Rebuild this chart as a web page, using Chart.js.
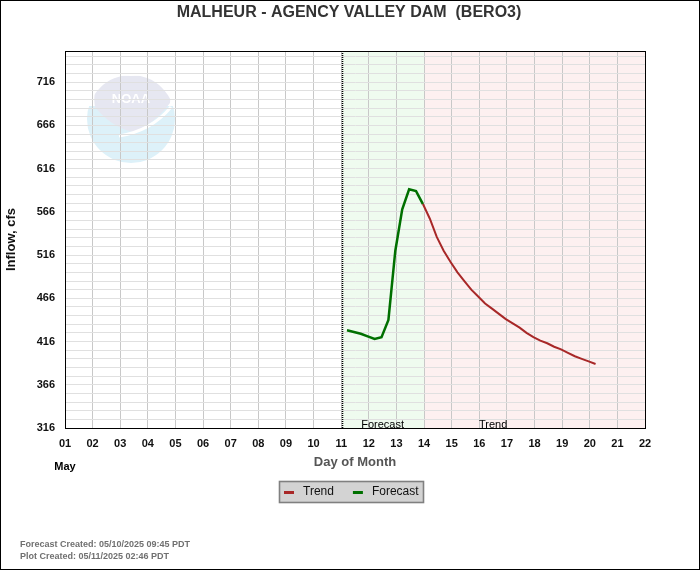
<!DOCTYPE html>
<html>
<head>
<meta charset="utf-8">
<title>MALHEUR - AGENCY VALLEY DAM (BERO3)</title>
<script src="https://cdn.jsdelivr.net/npm/chart.js@4.4.1/dist/chart.umd.min.js"></script>
<style>
    html, body { margin: 0; padding: 0; background: #fff; }
    canvas { display: block; }
</style>
</head>
<body>
<canvas id="inflowChart" width="700" height="570"></canvas>
<script>
const chartTitle = 'MALHEUR - AGENCY VALLEY DAM  (BERO3)';
const yAxisTitle = 'Inflow, cfs';
const xAxisTitle = 'Day of Month';
const monthLabel = 'May';
const footnotes = ['Forecast Created: 05/10/2025 09:45 PDT', 'Plot Created: 05/11/2025 02:46 PDT'];

const dayMin = 1;
const dayMax = 22;
const flowMin = 316;
const flowMax = 752;
const flowLabels = [316, 366, 416, 466, 516, 566, 616, 666, 716];
const flowGridStep = 10;

// shaded periods (day of month)
const forecastStart = 11.04;
const trendStart = 14.01;
const forecastLabelDay = 12.5;
const trendLabelDay = 16.5;

const forecastDays = [11.21, 11.46, 11.71, 11.96, 12.21, 12.46, 12.71, 12.96, 13.21, 13.46, 13.71, 13.96];
const forecastFlow = [429, 427, 425, 422, 419, 421, 441, 521, 569, 592, 590, 575];

const trendDays = [13.96, 14.21, 14.46, 14.71, 14.96, 15.21, 15.46, 15.71, 15.96, 16.21, 16.46, 16.71, 16.96,
    17.21, 17.46, 17.71, 17.96, 18.21, 18.46, 18.71, 18.96, 19.21, 19.46, 19.71, 19.96, 20.21];
const trendFlow = [575, 558, 537, 521, 508, 496, 486, 476, 468, 460, 454, 448, 442,
    437, 432, 426, 421, 417, 414, 410, 407, 403, 399, 396, 393, 390];

const FONT = "'Liberation Sans', Arial, sans-serif";
const TREND_COLOR = '#a82828';
const FORECAST_COLOR = '#007000';

const pairs = (xs, ys) => xs.map((x, i) => ({ x, y: ys[i] }));

function flowGrid() {
    const values = [];
    for (let v = flowMin; v < flowMax; v += flowGridStep) values.push(v);
    return values;
}

// faint agency watermark
function drawLogo(ctx, cx, cy) {
    const r = 44;
    ctx.save();
    ctx.beginPath();
    ctx.arc(cx, cy, r, 0, Math.PI * 2);
    ctx.clip();
    ctx.fillStyle = '#ddf1f9';
    ctx.fillRect(cx - r, cy - 13, r * 2, r + 13);
    ctx.fillStyle = '#e6e7f1';
    ctx.beginPath();
    ctx.moveTo(cx - 36, cy - 12);
    ctx.quadraticCurveTo(cx - 42, cy - 46, cx, cy - 43);
    ctx.quadraticCurveTo(cx + 42, cy - 46, cx + 39, cy - 16);
    ctx.quadraticCurveTo(cx + 22, cy + 6, cx + 2, cy + 13);
    ctx.quadraticCurveTo(cx - 20, cy + 8, cx - 36, cy - 12);
    ctx.fill();
    ctx.strokeStyle = '#ffffff';
    ctx.lineWidth = 3;
    ctx.beginPath();
    ctx.moveTo(cx - 12, cy + 17);
    ctx.quadraticCurveTo(cx + 20, cy + 12, cx + 40, cy - 12);
    ctx.stroke();
    ctx.fillStyle = '#ffffff';
    ctx.font = `bold 13px ${FONT}`;
    ctx.textAlign = 'center';
    ctx.textBaseline = 'middle';
    ctx.fillText('NOAA', cx, cy - 20);
    ctx.restore();
}

const decorPlugin = {
    id: 'decor',
    beforeDraw(chart) {
        const { ctx, chartArea: a, scales: { x } } = chart;
        const xf = x.getPixelForValue(forecastStart);
        const xt = x.getPixelForValue(trendStart);
        ctx.save();
        ctx.fillStyle = '#ffffff';
        ctx.fillRect(0, 0, chart.width, chart.height);
        ctx.fillStyle = '#effbef';
        ctx.fillRect(xf, a.top, xt - xf, a.bottom - a.top);
        ctx.fillStyle = '#fdf0f0';
        ctx.fillRect(xt, a.top, a.right - xt, a.bottom - a.top);
        ctx.restore();
        drawLogo(ctx, a.left + 66, a.top + 68);
    },
    afterDraw(chart) {
        const { ctx, chartArea: a, scales: { x } } = chart;
        ctx.save();
        // plot frame and outer frame
        ctx.strokeStyle = '#000';
        ctx.lineWidth = 1;
        ctx.strokeRect(Math.round(a.left) + 0.5, Math.round(a.top) + 0.5,
            Math.round(a.right - a.left), Math.round(a.bottom - a.top));
        ctx.strokeRect(0.5, 0.5, chart.width - 1, chart.height - 1);

        // forecast start marker
        const xf = Math.round(x.getPixelForValue(forecastStart)) + 0.5;
        ctx.setLineDash([1, 1]);
        ctx.lineWidth = 1.6;
        ctx.beginPath();
        ctx.moveTo(xf, a.top);
        ctx.lineTo(xf, a.bottom);
        ctx.stroke();
        ctx.setLineDash([]);

        // title
        ctx.fillStyle = '#333';
        ctx.font = `bold 16px ${FONT}`;
        ctx.textAlign = 'center';
        ctx.textBaseline = 'middle';
        ctx.fillText(chartTitle, 349, 13);

        // period labels
        ctx.fillStyle = '#000';
        ctx.font = `11px ${FONT}`;
        ctx.textBaseline = 'alphabetic';
        ctx.fillText('Forecast', x.getPixelForValue(forecastLabelDay), a.bottom);
        ctx.fillText('Trend', x.getPixelForValue(trendLabelDay), a.bottom);

        // month under the first day
        ctx.font = `bold 11px ${FONT}`;
        ctx.textBaseline = 'middle';
        ctx.fillText(monthLabel, a.left, 467);

        // legend
        const legend = chart.data.datasets.map(d => ({ text: d.label, color: d.borderColor }));
        ctx.fillStyle = '#d3d3d3';
        ctx.fillRect(279, 481, 144, 21);
        ctx.strokeStyle = '#808080';
        ctx.strokeRect(279.5, 481.5, 144, 21);
        ctx.font = `12px ${FONT}`;
        ctx.textAlign = 'left';
        let lx = 284;
        legend.forEach(item => {
            ctx.fillStyle = item.color;
            ctx.fillRect(lx, 491, 10, 3);
            ctx.fillStyle = '#111';
            ctx.fillText(item.text, lx + 19, 492);
            lx += 19 + ctx.measureText(item.text).width + 19;
        });

        // footnotes
        ctx.fillStyle = '#707070';
        ctx.font = `bold 9px ${FONT}`;
        footnotes.forEach((line, i) => ctx.fillText(line, 20, 545 + i * 12));
        ctx.restore();
    }
};

new Chart(document.getElementById('inflowChart').getContext('2d'), {
    type: 'line',
    data: {
        datasets: [
            {
                label: 'Trend',
                data: pairs(trendDays, trendFlow),
                borderColor: TREND_COLOR,
                backgroundColor: TREND_COLOR,
                borderWidth: 2,
                pointRadius: 0,
                tension: 0
            },
            {
                label: 'Forecast',
                data: pairs(forecastDays, forecastFlow),
                borderColor: FORECAST_COLOR,
                backgroundColor: FORECAST_COLOR,
                borderWidth: 2.5,
                pointRadius: 0,
                tension: 0
            }
        ]
    },
    options: {
        responsive: false,
        animation: false,
        devicePixelRatio: 1,
        layout: { padding: { left: 0, right: 55, top: 51, bottom: 98 } },
        plugins: {
            legend: { display: false },
            tooltip: { enabled: false },
            title: { display: false }
        },
        scales: {
            x: {
                type: 'linear',
                min: dayMin,
                max: dayMax,
                afterFit: scale => { scale.height = 44; },
                ticks: {
                    stepSize: 1,
                    autoSkip: false,
                    maxRotation: 0,
                    padding: 9,
                    color: '#111',
                    font: { family: FONT, size: 11, weight: 'bold' },
                    callback: value => String(value).padStart(2, '0')
                },
                grid: { color: '#c8c8c8', drawTicks: false },
                border: { color: '#000' },
                title: {
                    display: true,
                    text: xAxisTitle,
                    color: '#555',
                    font: { family: FONT, size: 13, weight: 'bold' },
                    padding: { top: 0, bottom: 2 }
                }
            },
            y: {
                min: flowMin,
                max: flowMax,
                afterFit: scale => { scale.width = 65; },
                afterBuildTicks: scale => { scale.ticks = flowGrid().map(value => ({ value })); },
                ticks: {
                    autoSkip: false,
                    padding: 10,
                    color: '#111',
                    font: { family: FONT, size: 11, weight: 'bold' },
                    callback: value => flowLabels.includes(value) ? String(value) : ''
                },
                grid: { color: '#e0e0e0', drawTicks: false },
                border: { color: '#000' },
                title: {
                    display: true,
                    text: yAxisTitle,
                    color: '#111',
                    font: { family: FONT, size: 13, weight: 'bold' },
                    padding: { top: 4, bottom: 0 }
                }
            }
        }
    },
    plugins: [decorPlugin]
});
</script>
</body>
</html>
